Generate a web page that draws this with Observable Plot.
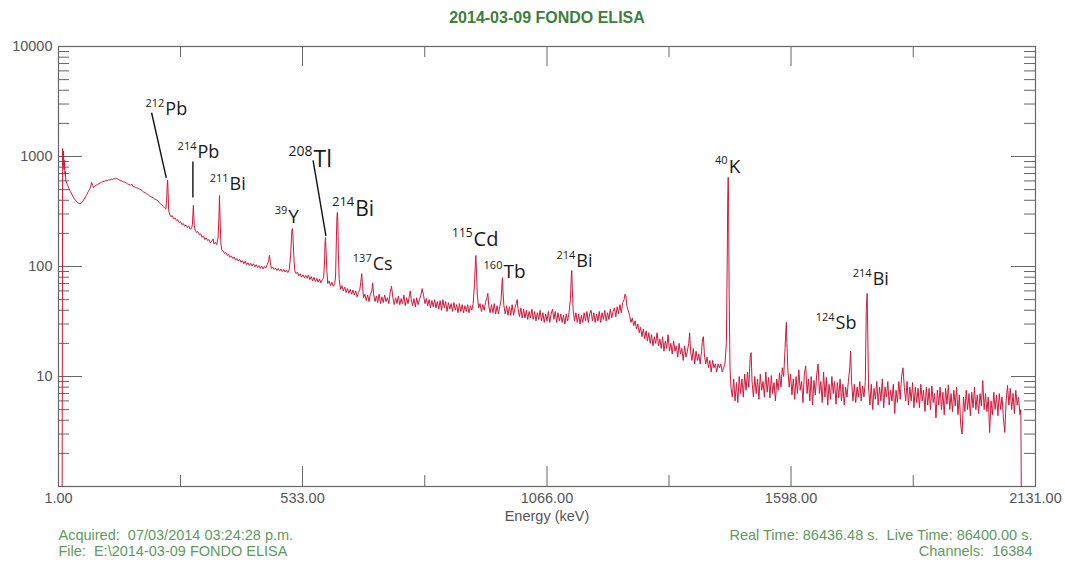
<!DOCTYPE html>
<html>
<head>
<meta charset="utf-8">
<script src="https://cdn.jsdelivr.net/npm/d3@7"></script>
<script src="https://cdn.jsdelivr.net/npm/@observablehq/plot@0.6"></script>
<style>
  html, body { margin: 0; padding: 0; background: #fff; }
  #chart { width: 1065px; height: 563px; }
</style>
</head>
<body>
<div id="chart"></div>
<script>
// Background gamma spectrum, 2014-03-09 (counts per channel vs energy in keV)

// 0 – 540 keV: low-energy continuum, 212Pb, 214Pb, 214Pb(352), annihilation line
const spectrumLow = [
  [9,1],[10,1180],[11,820],[12,1120],[13,760],[14,920],[15,690],[16,730],[17,600],[19,570],
  [21,545],[24,510],[27,480],[30,455],[33,430],[36,410],[39,395],[42,384],[45,376],[48,371],
  [51,378],[54,392],[57,410],[60,430],[63,455],[66,480],[69,505],[71,530],[73,580],[75,560],
  [77,520],[80,535],[83,548],[86,556],[89,566],[92,575],[95,584],[98,590],[101,596],[104,604],
  [107,600],[110,614],[113,610],[116,622],[119,618],[122,630],[125,626],[128,634],[131,620],[134,612],
  [137,604],[140,596],[143,588],[146,584],[149,572],[152,562],[155,556],[158,548],[161,560],[163,536],
  [166,530],[169,522],[172,520],[175,512],[178,506],[181,498],[184,486],[187,474],[190,470],[193,458],
  [196,452],[199,440],[202,432],[205,426],[208,420],[211,410],[214,404],[217,398],[220,384],[223,372],
  [226,366],[229,352],[232,342],[235,334],[237,420],[238,560],[239,610],[240,470],[241,330],[243,300],
  [246,284],[249,290],[252,272],[255,276],[258,262],[261,266],[264,250],[267,256],[270,240],[273,246],
  [276,232],[279,238],[282,226],[285,234],[288,218],[291,222],[293,240],[295,360],[297,236],[299,214],
  [302,204],[305,208],[308,194],[311,198],[314,184],[317,190],[320,176],[323,182],[326,172],[329,176],
  [332,164],[335,170],[338,178],[340,160],[343,166],[346,158],[349,185],[351,300],[352,442],[353,300],
  [355,160],[357,142],[360,138],[363,131],[366,134],[369,126],[372,129],[375,121],[378,125],[381,118],
  [384,122],[387,114],[390,118],[393,112],[396,116],[399,109],[402,113],[405,106],[408,112],[411,104],
  [414,108],[417,102],[420,107],[423,101],[426,106],[429,99],[432,104],[435,98],[438,102],[441,96],
  [444,101],[447,95],[450,100],[453,97],[456,104],[459,112],[461,126],[463,108],[465,96],[468,99],
  [471,94],[474,97],[477,92],[480,96],[483,91],[486,95],[489,90],[492,94],[495,89],[498,93],
  [501,88],[504,94],[507,125],[509,185],[510,216],[511,221],[512,195],[514,125],[516,92],[519,86],
  [522,89],[525,82],[528,86],[531,80],[534,84],[537,79],[540,83]
];

// 540 – 1245 keV: 208Tl, 214Bi, 137Cs, 228Ac, 214Bi lines
const spectrumMid = [
  [543,78],[546,84],[549,76],[552,81],[555,74],[558,80],[561,73],[564,78],[567,72],[570,77],
  [573,71],[576,76],[579,79],[581,110],[582,160],[583,183],[584,150],[586,92],[588,70],[591,74],
  [594,67],[597,72],[600,66],[603,70],[605,80],[607,190],[608,280],[609,310],[610,260],[611,140],
  [613,76],[616,62],[619,67],[622,60],[625,65],[628,58],[631,63],[634,57],[637,62],[640,56],
  [643,61],[646,55],[649,60],[652,53],[655,58],[658,62],[660,72],[662,86],[664,66],[666,52],
  [669,56],[672,49],[675,55],[678,48],[681,56],[684,60],[686,71],[688,56],[691,48],[694,54],
  [697,47],[700,56],[703,46],[706,53],[709,47],[712,55],[715,48],[718,52],[721,46],[724,58],
  [727,66],[730,52],[733,45],[736,52],[739,46],[742,54],[745,45],[748,51],[751,46],[754,55],
  [757,44],[760,52],[763,46],[766,54],[768,60],[770,50],[773,44],[776,51],[779,43],[782,52],
  [785,45],[788,50],[791,55],[794,63],[797,54],[800,46],[803,51],[806,44],[809,50],[812,42],
  [815,49],[818,43],[821,50],[824,42],[827,48],[830,41],[833,49],[836,40],[839,50],[842,42],
  [845,48],[848,39],[851,47],[854,41],[857,46],[860,39],[863,47],[866,40],[869,45],[872,38],
  [875,46],[878,39],[881,45],[884,38],[887,44],[890,39],[893,45],[896,38],[899,44],[902,40],
  [905,46],[908,70],[910,112],[911,126],[912,95],[914,56],[917,42],[920,46],[923,39],[926,45],
  [929,40],[932,47],[935,52],[937,57],[939,44],[942,38],[945,45],[948,38],[951,46],[954,37],
  [957,44],[960,37],[963,43],[966,50],[968,72],[969,79],[970,60],[972,44],[975,37],[978,44],
  [981,36],[984,43],[987,36],[990,45],[993,36],[996,42],[999,46],[1001,50],[1003,41],[1006,35],
  [1009,42],[1012,34],[1015,41],[1018,34],[1021,40],[1024,33],[1027,39],[1030,34],[1033,41],[1036,33],
  [1039,39],[1042,32],[1045,38],[1048,33],[1051,40],[1054,32],[1057,38],[1060,31],[1063,37],[1066,32],
  [1069,39],[1072,31],[1075,37],[1078,41],[1081,33],[1084,39],[1087,31],[1090,38],[1093,32],[1096,37],
  [1099,31],[1102,36],[1105,30],[1108,37],[1111,32],[1114,38],[1117,50],[1119,82],[1120,92],[1121,66],
  [1123,40],[1126,32],[1129,38],[1132,31],[1135,37],[1138,30],[1141,36],[1144,31],[1147,38],[1150,32],
  [1153,39],[1156,31],[1159,37],[1162,40],[1165,32],[1168,38],[1171,31],[1174,37],[1177,32],[1180,39],
  [1183,31],[1186,38],[1189,33],[1192,40],[1195,32],[1198,38],[1201,33],[1204,41],[1207,34],[1210,39],
  [1213,42],[1216,35],[1219,43],[1222,37],[1225,45],[1228,38],[1231,47],[1234,50],[1236,56],[1238,54],
  [1240,44],[1243,40]
];

// 1245 – 1470 keV: Compton edge fall-off and the 40K line
const spectrumHigh = [
  [1246,36],[1249,31],[1252,34],[1255,29],[1258,32],[1261,27],[1264,30],[1267,25],[1270,28],[1273,23],
  [1276,27],[1279,22],[1282,26],[1285,21],[1288,25],[1291,20],[1294,24],[1297,19],[1300,23],[1303,20],
  [1306,25],[1309,19],[1312,22],[1315,18],[1318,23],[1321,17],[1324,21],[1327,18],[1330,24],[1333,17],
  [1336,20],[1339,16],[1342,21],[1345,17],[1348,19],[1351,15],[1354,20],[1357,16],[1360,18],[1363,14],
  [1366,19],[1369,15],[1372,17],[1375,20],[1377,25],[1379,17],[1382,14],[1385,18],[1388,13],[1391,17],
  [1394,14],[1397,16],[1400,13],[1403,17],[1405,22],[1407,23],[1409,16],[1412,13],[1415,15],[1418,12],
  [1421,14],[1424,11],[1427,14],[1430,12],[1433,13],[1436,11],[1439,13],[1442,12],[1445,13],[1448,11],
  [1451,12],[1454,13],[1457,20],[1459,120],[1460,420],[1461,646],[1462,380],[1463,60],[1465,12],[1467,8]
];

// 1470 – 2131 keV: high-energy tail, 214Bi and 228Ac lines
const spectrumTail = [
  [1470,6.5],[1473,9.5],[1476,6],[1479,8.8],[1482,5.8],[1485,10],[1488,7],[1491,9.5],[1494,6.5],[1497,10.5],
  [1500,7.5],[1503,11],[1506,8],[1509,15],[1511,16.5],[1513,9],[1516,6.5],[1519,10],[1522,7],[1525,9.5],
  [1528,6.2],[1531,10.5],[1534,7.5],[1537,9],[1540,6.5],[1543,11],[1546,7.2],[1549,9.8],[1552,6.4],[1555,10.2],
  [1558,7],[1561,8.8],[1564,6],[1567,9.5],[1570,7.5],[1573,10.8],[1576,8],[1579,12],[1582,10],[1585,18],
  [1587,28],[1588,31],[1589,20],[1591,12],[1594,8],[1597,10.5],[1600,6.8],[1603,9.5],[1606,6.2],[1609,10],
  [1612,7],[1615,11.5],[1618,7.5],[1621,9],[1624,5.8],[1627,10.5],[1630,12.5],[1633,7],[1636,9.5],[1639,6],
  [1642,10],[1645,5.5],[1648,9.2],[1651,6.8],[1654,10.5],[1657,13],[1660,7],[1663,9],[1666,5.8],[1669,11],
  [1672,6.5],[1675,9.8],[1678,5.5],[1681,8.5],[1684,6.2],[1687,10],[1690,7],[1693,9],[1696,5.6],[1699,8.8],
  [1702,6.4],[1705,9.5],[1708,6],[1711,8.5],[1714,5.5],[1717,8],[1720,6.5],[1723,9],[1726,12],[1728,17],
  [1730,9],[1733,6],[1736,8.5],[1739,5.8],[1742,8],[1745,6.5],[1748,9],[1751,6],[1754,8.2],[1757,6.5],
  [1760,9],[1762,40],[1764,57],[1765,30],[1767,8],[1770,5.5],[1773,8.5],[1776,5],[1779,7.8],[1782,6.2],
  [1785,9],[1788,5.5],[1791,8],[1794,6],[1797,9.5],[1800,5.2],[1803,8],[1806,6.5],[1809,9],[1812,5.5],
  [1815,7.5],[1818,6],[1821,8.5],[1824,4.6],[1827,7.5],[1830,5.8],[1833,9],[1836,6.2],[1839,10],[1842,12],
  [1845,8],[1848,6],[1851,9],[1854,5.5],[1857,8],[1860,6],[1863,8.8],[1866,5.2],[1869,8],[1872,5.8],
  [1875,7.8],[1878,5.2],[1881,8.5],[1884,6],[1887,7.5],[1890,4.8],[1893,8],[1896,5.5],[1899,7.8],[1902,5],
  [1905,8.2],[1908,5.8],[1911,7],[1914,4.2],[1917,7.5],[1920,5.5],[1923,8],[1926,5],[1929,7.2],[1932,4.5],
  [1935,7.8],[1938,5.6],[1941,8.4],[1944,5],[1947,7],[1950,4.8],[1953,7.5],[1956,5.4],[1959,8],[1962,4.5],
  [1965,6.8],[1968,3.6],[1971,3],[1974,6.5],[1977,4.8],[1980,7.5],[1983,5],[1986,7],[1989,4.4],[1992,7.2],
  [1995,5.2],[1998,8],[2001,5],[2004,6.8],[2007,4.6],[2010,7],[2013,5.4],[2016,9.2],[2019,5],[2022,7],
  [2025,4.8],[2028,6.5],[2031,3.1],[2034,6],[2037,4.5],[2040,7.2],[2043,5],[2046,6.8],[2049,4.4],[2052,7],
  [2055,5],[2058,6.5],[2061,4.2],[2064,3.1],[2067,6],[2070,8.3],[2073,5.5],[2076,7.8],[2079,5],[2082,7],
  [2085,4.6],[2088,7.5],[2091,5.5],[2094,6.5],[2097,4.5],[2099,5],[2100,1]
];

// Axis ticks
const xTickLabels = [1, 533, 1066, 1598, 2131];
const xMinorTicks = [267, 799.5, 1332, 1864.5];
const yTickLabels = [10, 100, 1000, 10000];
const yMajorTicks = [1, 10, 100, 1000, 10000];
const yMinorTicks = [2,3,4,5,6,7,8,9, 20,30,40,50,60,70,80,90,
                     200,300,400,500,600,700,800,900, 2000,3000,4000,5000,6000,7000,8000,9000];

// Nuclide labels (mass number, symbol) placed in keV / counts
const nuclideMass   = ["212","214","211","39","208","214","137","115","160","214","40","214","124"];
const nuclideSymbol = ["Pb","Pb","Bi","Y","Tl","Bi","Cs","Cd","Tb","Bi","K","Bi","Sb"];
const nuclideKeV    = [234, 304, 374, 502, 557, 648, 686, 906, 971, 1130, 1462, 1776, 1695];
const nuclideCounts = [2360, 979, 491, 246, 811, 285, 92, 155, 79, 98, 715, 68.6, 27.3];
const nuclideFont   = [18, 18, 18, 19, 23, 21, 18, 20, 19, 18, 19, 18, 18];

// Leader lines from a label to its peak
const leaderFrom = [[204, 2500], [294, 900], [556, 920]];
const leaderTo   = [[236, 640], [294, 424], [584, 190]];

const spectrum = [...spectrumLow, ...spectrumMid, ...spectrumHigh, ...spectrumTail]
  .map(([keV, counts]) => ({keV, counts}));
const nuclides = nuclideMass.map((mass, i) => ({
  mass, symbol: nuclideSymbol[i], keV: nuclideKeV[i], counts: nuclideCounts[i], size: nuclideFont[i]
}));
const leaders = leaderFrom.map((f, i) => ({x1: f[0], y1: f[1], x2: leaderTo[i][0], y2: leaderTo[i][1]}));

const width = 1065, height = 563;
const margin = {top: 46, right: 30, bottom: 77, left: 58};
const frameW = width - margin.left - margin.right;
const frameH = height - margin.top - margin.bottom;

const axisGray = "#666";
const labelGray = "#555";
const green = "#3d7f3d";
const lightGreen = "#5e9a5e";
const labelFont = "'Open Sans', Lato, sans-serif";

const nuclideMarks = nuclides.flatMap(n => [
  Plot.text([n], {x: "keV", y: "counts", text: "symbol", textAnchor: "start", lineAnchor: "bottom",
    fontSize: n.size, fontFamily: labelFont, fill: "#1a1a1a"}),
  Plot.text([n], {x: "keV", y: "counts", text: "mass", textAnchor: "end", lineAnchor: "bottom",
    fontSize: Math.round(n.size * 0.6), fontFamily: labelFont, fill: "#1a1a1a",
    dx: -1, dy: -Math.round(n.size * 0.46)})
]);

const chart = Plot.plot({
  width, height,
  marginTop: margin.top, marginRight: margin.right, marginBottom: margin.bottom, marginLeft: margin.left,
  style: {fontFamily: "'Liberation Sans', Arial, sans-serif", fontSize: "14.5px", background: "#fff"},
  x: {domain: [1, 2131]},
  y: {type: "log", domain: [1, 10000]},
  marks: [
    // inward ticks on all four sides
    Plot.tickX(xTickLabels, {x: d => d, insetTop: frameH - 20, stroke: axisGray}),
    Plot.tickX(xTickLabels, {x: d => d, insetBottom: frameH - 20, stroke: axisGray}),
    Plot.tickX(xMinorTicks, {x: d => d, insetTop: frameH - 11, stroke: axisGray}),
    Plot.tickX(xMinorTicks, {x: d => d, insetBottom: frameH - 11, stroke: axisGray}),
    Plot.tickY(yMajorTicks, {y: d => d, insetRight: frameW - 24, stroke: axisGray}),
    Plot.tickY(yMajorTicks, {y: d => d, insetLeft: frameW - 24, stroke: axisGray}),
    Plot.tickY(yMinorTicks, {y: d => d, insetRight: frameW - 11, stroke: axisGray}),
    Plot.tickY(yMinorTicks, {y: d => d, insetLeft: frameW - 11, stroke: axisGray}),
    Plot.frame({stroke: axisGray, strokeWidth: 1.2}),
    Plot.axisX({ticks: xTickLabels, tickFormat: d => d.toFixed(2), tickSize: 0, tickPadding: 6,
      label: null, color: labelGray}),
    Plot.axisY({ticks: yTickLabels, tickFormat: d => String(d), tickSize: 0, tickPadding: 6,
      label: null, color: labelGray}),
    // spectrum
    Plot.line(spectrum, {x: "keV", y: "counts", stroke: "#cc1a3c", strokeWidth: 1}),
    // leader lines and nuclide labels
    Plot.link(leaders, {x1: "x1", y1: "y1", x2: "x2", y2: "y2", stroke: "#111", strokeWidth: 1.4}),
    ...nuclideMarks,
    // title, axis label and acquisition info
    Plot.text(["2014-03-09 FONDO ELISA"], {frameAnchor: "top", lineAnchor: "middle", dy: -29,
      fontSize: 16, fontWeight: "bold", fill: green}),
    Plot.text(["Energy (keV)"], {frameAnchor: "bottom", dy: 34, fill: labelGray}),
    Plot.text(["Acquired:  07/03/2014 03:24:28 p.m."], {frameAnchor: "bottom-left", textAnchor: "start", dy: 53, fill: lightGreen}),
    Plot.text(["File:  E:\\2014-03-09 FONDO ELISA"], {frameAnchor: "bottom-left", textAnchor: "start", dy: 69, fill: lightGreen}),
    Plot.text(["Real Time: 86436.48 s.  Live Time: 86400.00 s."], {frameAnchor: "bottom-right", textAnchor: "end", dx: -3, dy: 53, fill: lightGreen}),
    Plot.text(["Channels:  16384"], {frameAnchor: "bottom-right", textAnchor: "end", dx: -3, dy: 69, fill: lightGreen})
  ]
});

document.getElementById("chart").appendChild(chart);
</script>
</body>
</html>
